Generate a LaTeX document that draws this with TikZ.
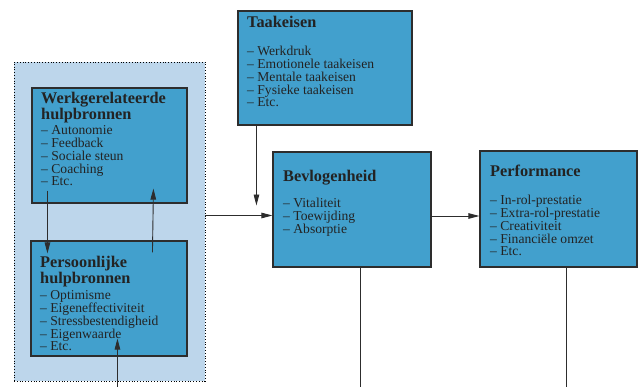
\documentclass[tikz,border=0pt]{standalone}
\usepackage{fontspec}
\setmainfont{Liberation Serif}
\usetikzlibrary{arrows.meta,calc}
\definecolor{boxblue}{RGB}{66,160,205}
\definecolor{bgblue}{RGB}{189,214,235}
\definecolor{ink}{RGB}{35,35,35}
\definecolor{edge}{RGB}{45,45,45}
\tikzset{
  box/.style={draw=edge, line width=1.1pt, fill=boxblue, inner sep=0pt},
  outerbox/.style={draw=black, dotted, line width=0.8pt, fill=bgblue, inner sep=0pt},
  ttl/.style={anchor=base west, inner sep=0pt, text=ink, font=\fontsize{16.3}{16}\selectfont\bfseries},
  itm/.style={anchor=base west, inner sep=0pt, text=ink, font=\fontsize{13.6}{13.5}\selectfont},
  ln/.style={draw=edge, line width=0.9pt},
  arr/.style={ln, -{Triangle[length=11pt,width=5.5pt]}}
}
\begin{document}
\begin{tikzpicture}[x=1pt,y=-1pt]
\useasboundingbox (0,0) rectangle (643,387);
% outer dotted area
\node[outerbox, minimum width=191pt, minimum height=319pt] (outer) at (109.5,221.5) {};
% boxes
\node[box, minimum width=155pt, minimum height=115pt] (werk) at (109.5,145.5) {};
\node[box, minimum width=156pt, minimum height=115pt] (pers) at (109,298.5) {};
\node[box, minimum width=174pt, minimum height=114pt] (taak) at (325,68) {};
\node[box, minimum width=158pt, minimum height=115pt] (bev) at (352,209.5) {};
\node[box, minimum width=157pt, minimum height=116pt] (perf) at (558.5,209) {};
% Werkgerelateerde hulpbronnen
\node[ttl] (wt1) at (41,104) {Werkgerelateerde};
\node[ttl] (wt2) at (41,119.5) {hulpbronnen};
\foreach \t [count=\i] in {Autonomie,Feedback,Sociale steun,Coaching,Etc.}
  \node[itm] (wi\i) at (41,{135+12.7*(\i-1)}) {– \t};
% Persoonlijke hulpbronnen
\node[ttl] (pt1) at (40,268) {Persoonlijke};
\node[ttl] (pt2) at (40,284) {hulpbronnen};
\foreach \t [count=\i] in {Optimisme,Eigeneffectiviteit,Stressbestendigheid,Eigenwaarde,Etc.}
  \node[itm] (pi\i) at (40,{300+12.7*(\i-1)}) {– \t};
% Taakeisen
\node[ttl] (tt1) at (247,28) {Taakeisen};
\foreach \t [count=\i] in {Werkdruk,Emotionele taakeisen,Mentale taakeisen,Fysieke taakeisen,Etc.}
  \node[itm] (ti\i) at (247,{56+12.7*(\i-1)}) {– \t};
% Bevlogenheid
\node[ttl] (bt1) at (283,182) {Bevlogenheid};
\foreach \t [count=\i] in {Vitaliteit,Toewijding,Absorptie}
  \node[itm] (bi\i) at (283,{208+12.7*(\i-1)}) {– \t};
% Performance
\node[ttl] (ft1) at (490,177) {Performance};
\foreach \t [count=\i] in {In-rol-prestatie,Extra-rol-prestatie,Creativiteit,Financiële omzet,Etc.}
  \node[itm] (fi\i) at (490,{205+12.7*(\i-1)}) {– \t};
% connectors
\draw[arr] ([xshift=16pt,yshift=13pt]werk.south west) -- ([xshift=17pt,yshift=-13pt]pers.north west);
\draw[arr] ([xshift=122pt,yshift=-12pt]pers.north west) -- ([xshift=122pt,yshift=15pt]werk.south west);
\coordinate (pbase) at ([xshift=87pt]pers.south west);
\coordinate (pin) at (pbase |- 0,387);
\draw[arr] (pin) -- ([yshift=18pt]pbase);
\coordinate (bin) at ([yshift=-6pt]bev.west);
\draw[arr] (bin -| outer.east) -- (bin);
\coordinate (tk) at ([xshift=19pt]taak.south west);
\draw[arr] (tk) -- ++(0,80);
\coordinate (fin) at ([yshift=-7pt]perf.west);
\draw[arr] (fin -| bev.east) -- (fin);
\coordinate (bo) at ([xshift=88pt]bev.south west);
\draw[ln] (bo) -- (bo |- 0,387);
\coordinate (fo) at ([xshift=87pt]perf.south west);
\draw[ln] (fo) -- (fo |- 0,387);
\end{tikzpicture}
\end{document}
